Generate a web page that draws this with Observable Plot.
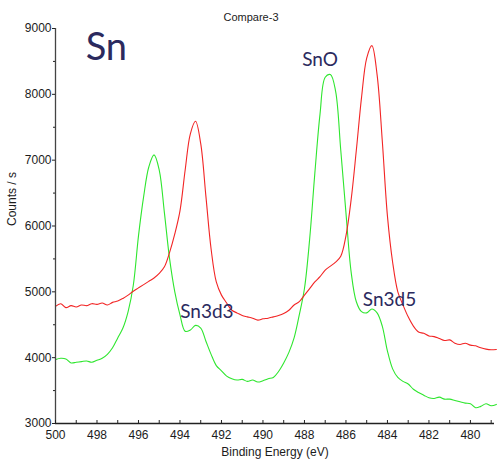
<!DOCTYPE html>
<html>
<head>
<meta charset="utf-8">
<script src="https://cdn.jsdelivr.net/npm/d3@7"></script>
<script src="https://cdn.jsdelivr.net/npm/@observablehq/plot@0.6"></script>
<style>
  html, body { margin: 0; padding: 0; background: #ffffff; }
  #chart svg { display: block; }
</style>
</head>
<body>
<div id="chart"></div>
<script>
// Binding energy grid (eV)
const energy = [
  500, 499.75, 499.5, 499.25, 499, 498.75, 498.5, 498.25, 498, 497.75,
  497.5, 497.25, 497, 496.75, 496.5, 496.25, 496, 495.75, 495.5, 495.25,
  495, 494.75, 494.5, 494.25, 494, 493.75, 493.5, 493.25, 493, 492.75,
  492.5, 492.25, 492, 491.75, 491.5, 491.25, 491, 490.75, 490.5, 490.25,
  490, 489.75, 489.5, 489.25, 489, 488.75, 488.5, 488.25, 488, 487.75,
  487.5, 487.25, 487, 486.75, 486.5, 486.25, 486, 485.75, 485.5, 485.25,
  485, 484.75, 484.5, 484.25, 484, 483.75, 483.5, 483.25, 483, 482.75,
  482.5, 482.25, 482, 481.75, 481.5, 481.25, 481, 480.75, 480.5, 480.25,
  480, 479.75, 479.5, 479.25, 479, 478.75
];
// Red series (Counts / s)
const redCounts = [
  4780, 4820, 4760, 4790, 4770, 4800, 4790, 4820, 4810, 4830,
  4800, 4840, 4860, 4900, 4950, 5010, 5060, 5110, 5160, 5210,
  5280, 5380, 5600, 5880, 6230, 6850, 7400, 7590, 7250, 6450,
  5650, 5150, 4950, 4830, 4720, 4680, 4640, 4620, 4600, 4570,
  4590, 4600, 4620, 4640, 4670, 4720, 4800, 4850, 4950, 5050,
  5150, 5230, 5330, 5390, 5450, 5540, 5850, 6400, 7150, 7950,
  8550, 8740, 8300, 7300, 6150, 5450, 5000, 4800, 4620, 4480,
  4390, 4370, 4330, 4320, 4290, 4260, 4270, 4220, 4200, 4220,
  4190, 4180, 4150, 4130, 4120, 4125
];
// Green series (Counts / s)
const greenCounts = [
  3970, 3990, 3980, 3920, 3930, 3940, 3950, 3930, 3960, 3990,
  4050, 4150, 4300, 4450, 4700, 5100, 5850, 6450, 6900, 7080,
  6850, 6200, 5500, 5000, 4650, 4400, 4420, 4490, 4450, 4250,
  4050, 3880, 3800, 3720, 3680, 3660, 3670, 3640, 3660, 3630,
  3650, 3680, 3700, 3790, 3920, 4080, 4300, 4650, 5050, 5800,
  6800, 7700, 8260, 8300, 8050, 7150, 6200, 5300, 4850, 4700,
  4680, 4740, 4680, 4480, 4100, 3830, 3700, 3640, 3600, 3520,
  3470, 3430, 3390, 3380, 3400, 3370, 3370, 3350, 3330, 3310,
  3300, 3240, 3260, 3300, 3270, 3290
];
// Tick values
const xMajorTicks = [500, 498, 496, 494, 492, 490, 488, 486, 484, 482, 480];
const xMinorTicks = [500, 499, 498, 497, 496, 495, 494, 493, 492, 491, 490, 489, 488, 487, 486, 485, 484, 483, 482, 481, 480, 479];
const yMajorTicks = [3000, 4000, 5000, 6000, 7000, 8000, 9000];
const yMinorTicks = [3500, 4500, 5500, 6500, 7500, 8500];
// Annotations
const noteText = ["Sn", "SnO", "Sn3d3", "Sn3d5"];
const noteX = [497.55, 487.25, 492.7, 483.9];
const noteY = [8700, 8520, 4700, 4870];
const noteSize = [38, 19, 19, 19];

const redData = energy.map((e, i) => ({e, v: redCounts[i]}));
const greenData = energy.map((e, i) => ({e, v: greenCounts[i]}));
const notes = noteText.map((t, i) => ({t, x: noteX[i], y: noteY[i], s: noteSize[i]}));

const font = "'Liberation Sans', Arial, sans-serif";
const noteFont = "Lato, 'Open Sans', sans-serif";
const ink = "#1c1c1c";

const chart = Plot.plot({
  width: 497,
  height: 467,
  marginLeft: 55,
  marginRight: 3,
  marginTop: 28,
  marginBottom: 44,
  style: {fontFamily: font, fontSize: "12px", color: ink, background: "#ffffff"},
  x: {domain: [500, 478.84], axis: null},
  y: {domain: [3000, 9000], axis: null},
  marks: [
    Plot.line(greenData, {x: "e", y: "v", stroke: "#2ee62e", strokeWidth: 1.1, curve: "catmull-rom"}),
    Plot.line(redData, {x: "e", y: "v", stroke: "#f22525", strokeWidth: 1.1, curve: "catmull-rom"}),
    Plot.ruleY([3000], {stroke: "#222", strokeWidth: 1.3}),
    Plot.ruleX([500], {stroke: "#444", strokeWidth: 1.3}),
    Plot.axisX({ticks: xMinorTicks, tickSize: 3, dy: -3, text: null, label: null, stroke: "#222"}),
    Plot.axisX({ticks: xMajorTicks, tickSize: 0, tickPadding: 7, tickFormat: d => String(d), label: null, fontSize: 12, fill: ink}),
    Plot.axisY({ticks: yMinorTicks, tickSize: 2, text: null, label: null, stroke: "#222"}),
    Plot.axisY({ticks: yMajorTicks, tickSize: 3, tickPadding: 1, tickFormat: d => String(d), label: null, fontSize: 12, fill: ink, stroke: "#222"}),
    Plot.text(["Binding Energy (eV)"], {frameAnchor: "bottom", dy: 32, fontSize: 12, fill: ink}),
    Plot.text(["Counts / s"], {frameAnchor: "left", rotate: -90, dx: -43, fontSize: 12, fill: ink}),
    Plot.text(["Compare-3"], {frameAnchor: "top", dy: -15, dx: -24, fontSize: 11, fill: ink}),
    Plot.text(notes, {x: "x", y: "y", text: "t", fontSize: d => d.s, fill: "#2b2a5e", fontFamily: noteFont})
  ]
});
document.getElementById("chart").appendChild(chart);
</script>
</body>
</html>
